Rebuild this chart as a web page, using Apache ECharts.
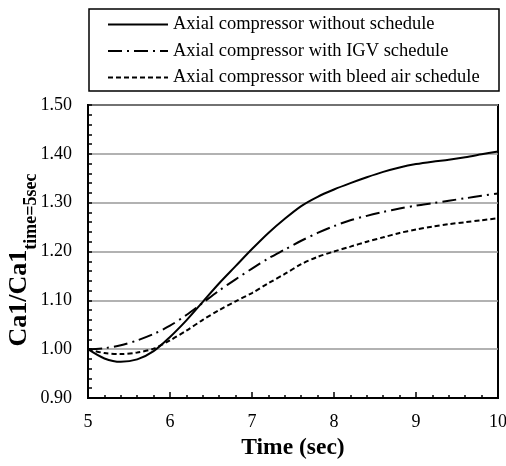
<!DOCTYPE html>
<html>
<head>
<meta charset="utf-8">
<script src="https://cdn.jsdelivr.net/npm/echarts@6/dist/echarts.min.js"></script>
<style>
  html, body { margin: 0; padding: 0; background: #fff; }
  #chart { width: 506px; height: 466px; }
</style>
</head>
<body>
<div id="chart"></div>
<script>
// time (sec)
const time = [5.0, 5.2, 5.4, 5.6, 5.8, 6.0, 6.2, 6.4, 6.6, 6.8, 7.0, 7.2, 7.4,
  7.6, 7.8, 8.0, 8.2, 8.4, 8.6, 8.8, 9.0, 9.2, 9.4, 9.6, 9.8, 10.0];

// Ca1 / Ca1(time=5sec)
const noSchedule = [1.000, 0.981, 0.974, 0.979, 0.996, 1.025, 1.059, 1.097, 1.135, 1.170,
  1.205, 1.238, 1.267, 1.293, 1.312, 1.327, 1.340, 1.352, 1.363, 1.372, 1.379, 1.384,
  1.388, 1.393, 1.399, 1.405];
const igvSchedule = [1.000, 1.002, 1.008, 1.018, 1.031, 1.048, 1.070, 1.095, 1.120, 1.143,
  1.165, 1.186, 1.204, 1.222, 1.238, 1.252, 1.264, 1.273, 1.281, 1.288, 1.294, 1.299,
  1.304, 1.309, 1.314, 1.319];
const bleedSchedule = [1.000, 0.992, 0.990, 0.993, 1.001, 1.018, 1.038, 1.060, 1.080, 1.098,
  1.115, 1.135, 1.154, 1.174, 1.189, 1.200, 1.210, 1.220, 1.229, 1.238, 1.245, 1.251,
  1.256, 1.260, 1.264, 1.268];

const seriesNames = [
  'Axial compressor without schedule',
  'Axial compressor with IGV schedule',
  'Axial compressor with bleed air schedule'
];

const font = '"Liberation Serif", "Times New Roman", serif';

const pairs = (ys) => time.map((t, i) => [t, ys[i]]);

const chart = echarts.init(document.getElementById('chart'));

const makeLine = (name, ys, type) => ({
  name: name,
  type: 'line',
  data: pairs(ys),
  smooth: 0.3,
  symbol: 'none',
  color: '#000',
  lineStyle: { color: '#000', width: 2, type: type },
  z: 3
});

const option = {
  backgroundColor: '#fff',
  animation: false,
  textStyle: { fontFamily: font, color: '#000' },
  grid: {
    left: 88, right: 8, top: 105, bottom: 68,
    outerBoundsMode: 'none',
    containLabel: false,
    show: true, borderColor: '#000', borderWidth: 2
  },
  // legend frame
  graphic: [{
    type: 'rect',
    shape: { x: 89, y: 9, width: 410, height: 82 },
    style: { fill: 'none', stroke: '#000', lineWidth: 1.5 }
  }],
  legend: {
    data: seriesNames,
    orient: 'vertical',
    left: 107,
    top: 15,
    itemWidth: 60,
    itemHeight: 14,
    itemGap: 7.5,
    padding: 0,
    itemStyle: { color: 'rgba(0,0,0,0)', borderWidth: 0 },
    textStyle: { fontFamily: font, fontSize: 18.5, color: '#000' }
  },
  xAxis: {
    type: 'value',
    min: 5, max: 10, interval: 1,
    name: 'Time (sec)',
    nameLocation: 'middle',
    nameGap: 38,
    nameMoveOverlap: false,
    nameTextStyle: { fontFamily: font, fontSize: 23.5, fontWeight: 'bold', color: '#000' },
    axisLine: { lineStyle: { color: '#000', width: 2 } },
    axisTick: { inside: true, length: 6, lineStyle: { color: '#000', width: 1.5 } },
    minorTick: { show: true, splitNumber: 5, length: 3, lineStyle: { color: '#000', width: 1.5 } },
    axisLabel: { fontFamily: font, fontSize: 18, color: '#000', margin: 15 },
    splitLine: { show: false }
  },
  yAxis: {
    type: 'value',
    min: 0.9, max: 1.5, interval: 0.1,
    name: '{a|Ca1/Ca1}{b|time=5sec}',
    nameLocation: 'middle',
    nameRotate: 90,
    nameGap: 48,
    nameMoveOverlap: false,
    nameTextStyle: {
      padding: [0, 17, 0, 0],
      rich: {
        a: { fontFamily: font, fontSize: 26, fontWeight: 'bold', color: '#000',
             lineHeight: 34, verticalAlign: 'top' },
        b: { fontFamily: font, fontSize: 18, fontWeight: 'bold', color: '#000',
             lineHeight: 34, verticalAlign: 'bottom' }
      }
    },
    axisLine: { lineStyle: { color: '#000', width: 2 } },
    axisTick: { inside: true, length: 4, lineStyle: { color: '#000', width: 1.5 } },
    minorTick: { show: true, splitNumber: 5, length: 4, lineStyle: { color: '#000', width: 1.5 } },
    axisLabel: {
      fontFamily: font, fontSize: 18, color: '#000', margin: 16,
      formatter: (v) => v.toFixed(2)
    },
    splitLine: { show: true, lineStyle: { color: '#999', width: 1.5 } }
  },
  series: [
    makeLine(seriesNames[0], noSchedule, 'solid'),
    makeLine(seriesNames[1], igvSchedule, [14, 5, 2, 5]),
    makeLine(seriesNames[2], bleedSchedule, [5, 3])
  ]
};

chart.setOption(option);
</script>
</body>
</html>
